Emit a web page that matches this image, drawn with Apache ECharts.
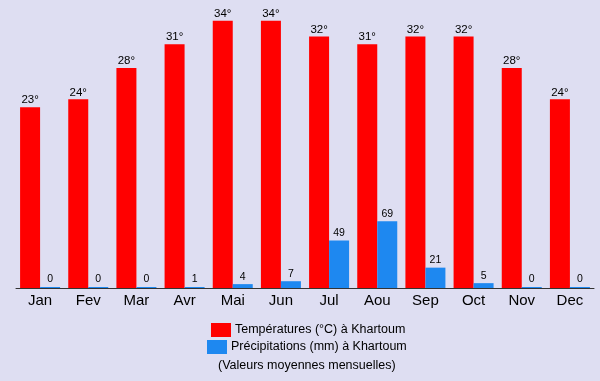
<!DOCTYPE html>
<html><head><meta charset="utf-8">
<script src="https://cdn.jsdelivr.net/npm/echarts@6/dist/echarts.min.js"></script>
<style>html,body{margin:0;padding:0;background:#dedef2;}#c{width:600px;height:381px;}</style>
</head><body><div id="c"></div>
<script>
const months = ['Jan','Fev','Mar','Avr','Mai','Jun','Jul','Aou','Sep','Oct','Nov','Dec'];
const temperatures = [23,24,28,31,34,34,32,31,32,32,28,24];
const precipitations = [0,0,0,1,4,7,49,69,21,5,0,0];
const tempName = 'Températures (°C) à Khartoum';
const precName = 'Précipitations (mm) à Khartoum';
const note = '(Valeurs moyennes mensuelles)';

const chart = echarts.init(document.getElementById('c'));
chart.setOption({
  backgroundColor: '#dedef2',
  animation: false,
  textStyle: {fontFamily: 'Liberation Sans, Arial, sans-serif'},
  grid: {left: 16, width: 578, top: 5, height: 283},
  legend: [
    {data: [tempName], left: 211, top: 323, itemWidth: 20, itemHeight: 14, itemGap: 4,
     padding: 0, icon: 'rect', textStyle: {fontSize: 12.5, color: '#000', padding: [0,0,0,-1]}},
    {data: [precName], left: 207, top: 340, itemWidth: 20, itemHeight: 14, itemGap: 4,
     padding: 0, icon: 'rect', textStyle: {fontSize: 12.5, color: '#000', padding: [0,0,0,-1]}}
  ],
  graphic: [{type: 'text', left: 218, top: 359, style: {text: note, fontSize: 12.5, fill: '#000', fontFamily: 'Liberation Sans, Arial, sans-serif'}}],
  xAxis: {type: 'category', data: months,
    axisLine: {lineStyle: {color: '#333', width: 1}}, axisTick: {show: false},
    axisLabel: {fontSize: 15, color: '#000', margin: 5}},
  yAxis: [
    {type: 'value', min: 0, max: 36, show: false},
    {type: 'value', min: 0, max: 292, show: false}
  ],
  series: [
    {name: tempName, type: 'bar', data: temperatures, yAxisIndex: 0, barWidth: 20, barGap: '0%',
     itemStyle: {color: '#ff0000'},
     label: {show: true, position: 'top', distance: 1, formatter: '{c}°', fontSize: 11.5, color: '#000'}},
    {name: precName, type: 'bar', data: precipitations, yAxisIndex: 1, barWidth: 20, barMinHeight: 1,
     itemStyle: {color: '#1e88f0'},
     label: {show: true, position: 'top', distance: 2, fontSize: 10.5, color: '#000'}}
  ]
});
</script></body></html>
